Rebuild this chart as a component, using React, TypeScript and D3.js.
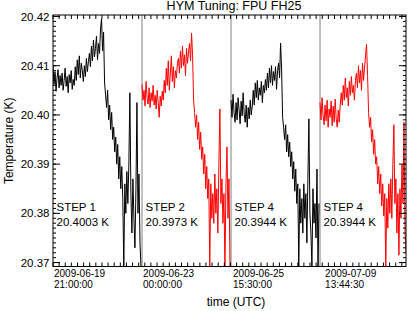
import React from 'react';
import * as d3 from 'd3';

// HYM tuning, FPU FH25: four temperature steps, drawn one after the other
const W = 409;
const H = 311;
const M = { left: 53, right: 3, top: 15, bottom: 44.5 };

// temperature (K) per sample
const step1 = [
  20.4100, 20.4062, 20.4088, 20.4048, 20.4075, 20.4092, 20.4055, 20.4080, 20.4060, 20.4085,
  20.4050, 20.4070, 20.4095, 20.4058, 20.4078, 20.4045, 20.4082, 20.4065, 20.4090, 20.4052,
  20.4072, 20.4060,
  20.4098, 20.4070, 20.4112, 20.4082, 20.4120, 20.4075, 20.4105, 20.4090, 20.4068, 20.4100,
  20.4078, 20.4115, 20.4088, 20.4108,
  20.4125, 20.4098, 20.4140, 20.4110, 20.4152, 20.4118, 20.4135, 20.4160, 20.4112, 20.4145,
  20.4125, 20.4175, 20.4195, 20.4130, 20.4168,
  20.4065, 20.4040, 20.4015, 20.4050, 20.3990, 20.4020, 20.3970, 20.4005, 20.3950,
  20.3975, 20.3925, 20.3955, 20.3900, 20.3940, 20.3870, 20.3915, 20.3850, 20.3895, 20.3830,
  20.3690, 20.3860, 20.3800, 20.3885, 20.3820, 20.3900, 20.4045, 20.3840, 20.3760, 20.3870,
  20.3790, 20.3730, 20.3850, 20.4025, 20.3800, 20.3880, 20.3740, 20.3690,
];
const step2 = [
  20.4062, 20.4030, 20.4050, 20.4018, 20.4068, 20.4035, 20.4022, 20.4055, 20.4015, 20.4045,
  20.4028, 20.4060, 20.4020, 20.4040, 20.4012, 20.4050, 20.4025, 20.3995, 20.4038, 20.4018,
  20.4048, 20.4030,
  20.4070, 20.4045, 20.4095, 20.4060, 20.4110, 20.4050, 20.4085, 20.4120, 20.4068, 20.4098,
  20.4055, 20.4090, 20.4075, 20.4105,
  20.4115, 20.4085, 20.4130, 20.4095, 20.4140, 20.4100, 20.4122, 20.4080, 20.4135, 20.4105,
  20.4128, 20.4145, 20.4110, 20.4166, 20.4120,
  20.4030, 20.4005, 20.3975, 20.4000, 20.3950, 20.3985, 20.3930, 20.3965, 20.3910,
  20.3935, 20.3880, 20.3920, 20.3850, 20.3895, 20.3830, 20.3870, 20.3690, 20.3860, 20.3790,
  20.3840, 20.3780, 20.3880, 20.3800, 20.3850, 20.3760, 20.3900, 20.4012, 20.3820, 20.3870,
  20.3780, 20.3840, 20.3690, 20.3860, 20.3935, 20.3790, 20.3870, 20.3690,
];
const step3 = [
  20.4030, 20.3995, 20.4042, 20.4005, 20.3985, 20.4025, 20.3990, 20.4035, 20.4010, 20.3982,
  20.4028, 20.3998, 20.4045, 20.4002, 20.3985, 20.4020, 20.3975, 20.4015, 20.3992, 20.4030,
  20.4000, 20.4018,
  20.4050, 20.4020, 20.4065, 20.4035, 20.4070, 20.4030, 20.4055, 20.4040, 20.4068, 20.4025,
  20.4060, 20.4045, 20.4072, 20.4050,
  20.4085, 20.4055, 20.4095, 20.4065, 20.4100, 20.4060, 20.4088, 20.4070, 20.4098, 20.4052,
  20.4090, 20.4105, 20.4075, 20.4146, 20.4095,
  20.3995, 20.3975, 20.3950, 20.3980, 20.3925, 20.3960, 20.3915, 20.3945, 20.3895,
  20.3925, 20.3870, 20.3905, 20.3845, 20.3890, 20.3820, 20.3860, 20.3690, 20.3850, 20.3780,
  20.3830, 20.3760, 20.3860, 20.3790, 20.3840, 20.3740, 20.3870, 20.3992, 20.3800, 20.3760,
  20.3690, 20.3850, 20.3780, 20.3820, 20.3750, 20.3890, 20.3690, 20.3820,
];
const step4b = [
  20.4025, 20.3990, 20.4035, 20.4000, 20.3980, 20.4020, 20.3988, 20.4030, 20.3975, 20.4012,
  20.3995, 20.4028, 20.3978, 20.4018, 20.3985, 20.4032, 20.3992, 20.3975, 20.4010, 20.3985,
  20.4022,
  20.4045, 20.4020, 20.4060, 20.4030, 20.4075, 20.4035, 20.4055, 20.4018, 20.4068, 20.4040,
  20.4078, 20.4045, 20.4060, 20.4030, 20.4070,
  20.4085, 20.4055, 20.4100, 20.4065, 20.4090, 20.4050, 20.4105, 20.4070, 20.4095, 20.4120,
  20.4143, 20.4080,
  20.4005, 20.3975, 20.3995, 20.3945, 20.3970, 20.3920, 20.3950, 20.3900,
  20.3915, 20.3860, 20.3895, 20.3840, 20.3880, 20.3815, 20.3860, 20.3795, 20.3840,
  20.3690, 20.3830, 20.3770, 20.3860, 20.3800, 20.3870, 20.3790, 20.3900, 20.3980, 20.3820,
  20.3870, 20.3760, 20.3840, 20.3715, 20.3850, 20.3790, 20.3900, 20.3820, 20.3985, 20.3760,
  20.3720,
];

const series = [step1, step2, step3, step4b];
const seriesColors = ['#000000', '#ff0000', '#000000', '#ff0000'];
const stepNames = ['STEP 1', 'STEP 2', 'STEP 4', 'STEP 4'];
const stepMeans = ['20.4003 K', '20.3973 K', '20.3944 K', '20.3944 K'];

const xDates = ['2009-06-19', '2009-06-23', '2009-06-25', '2009-07-09'];
const xTimes = ['21:00:00', '00:00:00', '15:30:00', '13:44:30'];
const xLabelAt = [1, 89, 178, 269]; // sample index where each label starts
const xMinorStep = 6.05; // samples between small ticks

const yTicks = [20.37, 20.38, 20.39, 20.4, 20.41, 20.42];
const yRange = [20.3692, 20.4203];
const yMinorStep = 0.001;

const font = "'Liberation Sans', Arial, Helvetica, sans-serif";

export default function App() {
  // start index of every step on the shared sample axis
  const offsets: number[] = [];
  series.reduce((acc, s) => {
    offsets.push(acc);
    return acc + s.length;
  }, 0);
  const nTotal = d3.sum(series, (s) => s.length);

  const x = d3.scaleLinear().domain([0, nTotal - 1]).range([M.left, W - M.right]);
  const y = d3.scaleLinear().domain(yRange).range([H - M.bottom, M.top]);

  const x0 = M.left;
  const x1 = W - M.right;
  const y0 = M.top;
  const y1 = H - M.bottom;

  const xMinor = d3.range(0, nTotal - 1, xMinorStep);
  const yMinor = d3.range(0, 51).map((i) => 20.37 + i * yMinorStep);

  return (
    <svg
      width={W}
      height={H}
      style={{ position: 'absolute', left: 0, top: 0, background: '#fff' }}
      fontFamily={font}
    >
      <defs>
        <clipPath id="plot">
          <rect x={x0} y={y0} width={x1 - x0} height={y1 - y0} />
        </clipPath>
      </defs>

      {/* step boundaries */}
      {offsets.slice(1).map((o, i) => (
        <line key={'b' + i} x1={x(o)} x2={x(o)} y1={y0} y2={y1} stroke="#808080" strokeWidth={1} />
      ))}

      <g clipPath="url(#plot)">
        {series.map((s, k) => {
          const line = d3
            .line<number>()
            .x((_, i) => x(offsets[k] + i))
            .y((d) => y(d));
          return (
            <path key={'s' + k} d={line(s) || ''} fill="none" stroke={seriesColors[k]} strokeWidth={1} />
          );
        })}
      </g>

      {/* frame */}
      <rect x={x0} y={y0} width={x1 - x0} height={y1 - y0} fill="none" stroke="#000" strokeWidth={1} />

      {/* x ticks, top and bottom */}
      {xMinor.map((t, i) => (
        <g key={'xt' + i}>
          <line x1={x(t)} x2={x(t)} y1={y1} y2={y1 - 4} stroke="#000" />
          <line x1={x(t)} x2={x(t)} y1={y0} y2={y0 + 4} stroke="#000" />
        </g>
      ))}

      {/* y ticks, left and right */}
      {yMinor.map((t, i) => (
        <g key={'ym' + i}>
          <line x1={x0} x2={x0 + 3} y1={y(t)} y2={y(t)} stroke="#000" />
          <line x1={x1} x2={x1 - 3} y1={y(t)} y2={y(t)} stroke="#000" />
        </g>
      ))}
      {yTicks.map((t, i) => (
        <g key={'yt' + i}>
          <line x1={x0} x2={x0 + 7} y1={y(t)} y2={y(t)} stroke="#000" />
          <line x1={x1} x2={x1 - 7} y1={y(t)} y2={y(t)} stroke="#000" />
          <text x={49.5} y={y(t)} dy="0.36em" textAnchor="end" fontSize={11.5}>
            {d3.format('.2f')(t)}
          </text>
        </g>
      ))}

      {/* x labels */}
      {xDates.map((d, i) => (
        <g key={'xl' + i} fontSize={10}>
          <text x={x(xLabelAt[i])} y={276.5}>{d}</text>
          <text x={x(xLabelAt[i])} y={288}>{xTimes[i]}</text>
        </g>
      ))}

      {/* step annotations */}
      {stepNames.map((s, i) => (
        <g key={'st' + i} fontSize={11.5}>
          <text x={x(offsets[i]) + 3.5} y={211}>{s}</text>
          <text x={x(offsets[i]) + 3.5} y={226}>{stepMeans[i]}</text>
        </g>
      ))}

      <text x={234} y={9.5} textAnchor="middle" fontSize={12.5}>
        HYM Tuning: FPU FH25
      </text>
      <text x={236} y={306} textAnchor="middle" fontSize={12}>
        time (UTC)
      </text>
      <text transform={`translate(13, ${(y0 + y1) / 2}) rotate(-90)`} textAnchor="middle" fontSize={12}>
        Temperature (K)
      </text>
    </svg>
  );
}
